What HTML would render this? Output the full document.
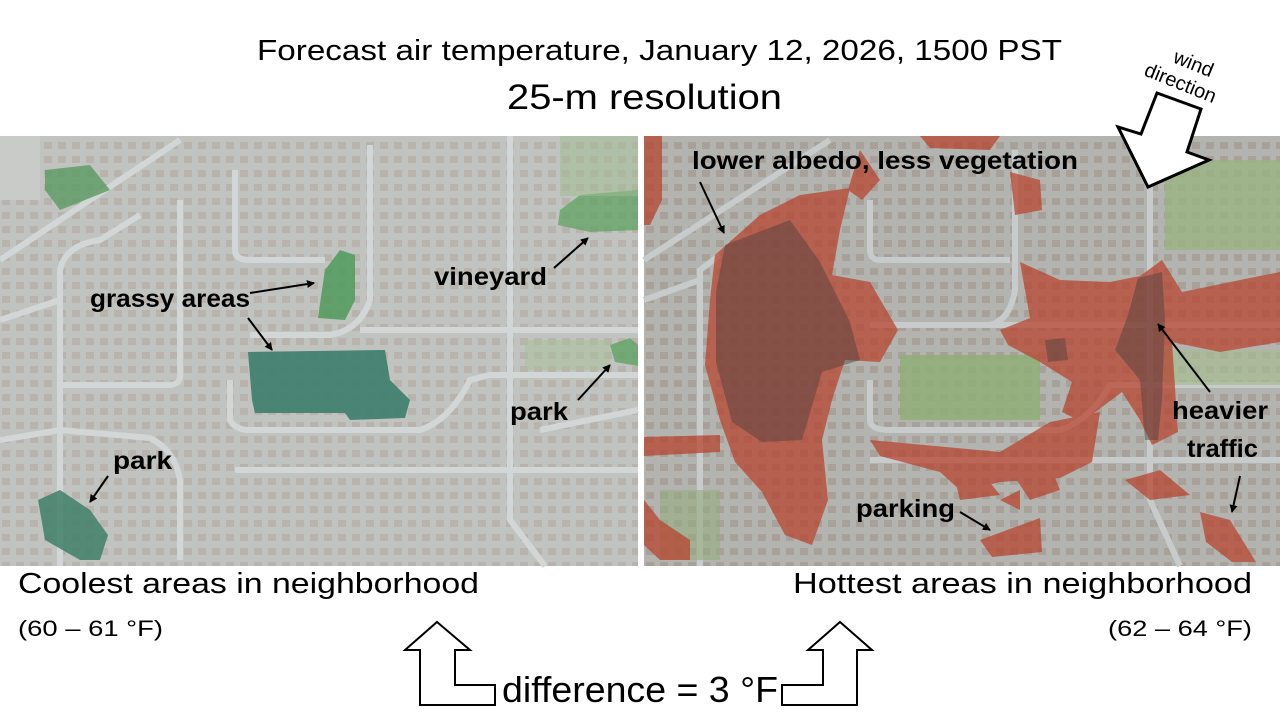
<!DOCTYPE html>
<html><head><meta charset="utf-8"><style>
html,body{margin:0;padding:0;background:#fff;width:1280px;height:720px;overflow:hidden}
svg{display:block}
text{font-family:"Liberation Sans","DejaVu Sans",sans-serif}
.lb{font-weight:bold;font-size:25px;fill:#000}
</style></head><body>
<svg width="1280" height="720" viewBox="0 0 1280 720" xmlns="http://www.w3.org/2000/svg">
<defs>
<marker id="ah" markerWidth="8" markerHeight="8" refX="7" refY="4" orient="auto" markerUnits="userSpaceOnUse"><path d="M0,0 L8,4 L0,8 z" fill="#000"/></marker>
<pattern id="houses" width="14" height="14" patternUnits="userSpaceOnUse"><rect width="14" height="14" fill="#b3b4b0"/><rect x="2" y="2" width="8" height="7" fill="#a8a19a"/></pattern>
<pattern id="houses2" width="14" height="14" patternUnits="userSpaceOnUse"><rect width="14" height="14" fill="#c1c3c0"/><rect x="2" y="2" width="8" height="7" fill="#b8b3ad"/></pattern>
</defs>
<rect width="1280" height="720" fill="#fff"/>
<text x="257" y="60" font-size="29" textLength="805" lengthAdjust="spacingAndGlyphs">Forecast air temperature, January 12, 2026, 1500 PST</text>
<text x="507" y="109" font-size="35" textLength="275" lengthAdjust="spacingAndGlyphs">25-m resolution</text>

<!-- LEFT IMAGE -->
<g>
<rect x="0" y="136" width="638" height="430" fill="url(#houses2)"/>
<g fill="none" stroke="#d3d6d6" stroke-width="6">
<path d="M60,566 V270 Q65,245 100,240 L140,215"/>
<path d="M0,320 L60,300"/><path d="M0,440 L60,430 L150,438 Q175,450 180,480 V560"/>
<path d="M180,200 V370 Q182,385 170,385 H60"/>
<path d="M235,170 V250 Q235,260 250,260 H325"/>
<path d="M370,145 V300 Q360,330 330,335 H250"/>
<path d="M230,380 V420 Q235,430 250,430 H420 Q450,420 470,380 L490,375 H638"/>
<path d="M235,470 H638"/><path d="M510,136 V520 L545,566"/>
<path d="M360,330 H638"/><path d="M540,430 L638,410"/>
<path d="M0,260 L180,140"/>
</g>
<path d="M45,170 L90,165 L110,190 L60,210 L45,190 z" fill="#5a9a62" opacity=".8"/>
<path d="M325,270 L340,250 L355,255 L355,300 L345,320 L318,318 L322,290 z" fill="#4f9a5a" opacity=".85"/>
<path d="M252,400 L248,352 L385,350 L390,380 L410,400 L405,418 L350,420 L345,413 L255,413 z" fill="#3d7d6c" opacity=".9"/>
<path d="M38,500 L60,490 L90,510 L108,535 L100,560 L80,560 L45,540 z" fill="#3f8068" opacity=".85"/>
<path d="M560,210 L580,195 L638,190 L638,230 L590,232 L558,225 z" fill="#5fa362" opacity=".75"/>
<path d="M610,345 L630,338 L638,345 L638,366 L615,362 z" fill="#5fa362" opacity=".8"/>
<rect x="560" y="136" width="78" height="60" fill="#9fbb8e" opacity=".5"/>
<rect x="525" y="340" width="85" height="30" fill="#a8c198" opacity=".5"/>
<path d="M0,136 H40 V200 H0 z" fill="#c9cbc9"/>
<text class="lb" x="90" y="307" textLength="160" lengthAdjust="spacingAndGlyphs">grassy areas</text>
<line x1="250" y1="293" x2="314" y2="283" stroke="#000" stroke-width="2" marker-end="url(#ah)"/>
<line x1="248" y1="318" x2="272" y2="350" stroke="#000" stroke-width="2" marker-end="url(#ah)"/>
<text class="lb" x="434" y="285" textLength="113" lengthAdjust="spacingAndGlyphs">vineyard</text>
<line x1="554" y1="268" x2="588" y2="238" stroke="#000" stroke-width="2" marker-end="url(#ah)"/>
<text class="lb" x="510" y="420" textLength="58" lengthAdjust="spacingAndGlyphs">park</text>
<line x1="578" y1="400" x2="610" y2="365" stroke="#000" stroke-width="2" marker-end="url(#ah)"/>
<text class="lb" x="113" y="469" textLength="59" lengthAdjust="spacingAndGlyphs">park</text>
<line x1="108" y1="476" x2="90" y2="502" stroke="#000" stroke-width="2" marker-end="url(#ah)"/>
</g>

<!-- RIGHT IMAGE -->
<g>
<rect x="644" y="136" width="636" height="430" fill="url(#houses)"/>
<g fill="none" stroke="#c7cbcb" stroke-width="6">
<path d="M700,566 V270 L720,255"/><path d="M644,300 L700,280"/>
<path d="M870,200 V250 Q870,260 880,260 H1010"/>
<path d="M1015,150 V290 Q1010,320 990,325 H870"/>
<path d="M870,380 V420 Q870,430 890,430 H1060 Q1090,420 1110,385 H1280"/>
<path d="M870,460 H1280"/><path d="M1150,136 V500 L1180,566"/>
<path d="M990,325 H1280"/><path d="M644,260 L830,140"/>
</g>
<rect x="900" y="355" width="140" height="65" fill="#8fae77" opacity=".85"/>
<rect x="1165" y="160" width="115" height="90" fill="#98b47f" opacity=".75"/>
<rect x="1165" y="350" width="115" height="35" fill="#a6bc92" opacity=".7"/>
<rect x="660" y="490" width="60" height="70" fill="#94ac7e" opacity=".6"/>
<g fill="#b8412c" opacity=".72">
<path d="M715,255 L760,215 L800,195 L850,188 L840,230 L832,275 L870,282 L898,330 L880,362 L845,360 L832,400 L822,440 L828,500 L812,545 L785,535 L762,492 L735,462 L720,420 L705,365 L710,300 z"/>
<path d="M644,437 L720,435 L720,452 L644,456 z"/>
<path d="M644,136 L662,136 L662,200 L650,225 L644,225 z"/>
<path d="M644,500 L660,520 L690,540 L690,560 L660,560 L644,545 z"/>
<path d="M1020,262 L1060,280 L1110,282 L1140,276 L1162,260 L1182,292 L1240,280 L1280,272 L1280,342 L1220,352 L1172,342 L1178,432 L1152,445 L1140,420 L1122,392 L1082,422 L1062,412 L1072,382 L1040,362 L1008,345 L1000,330 L1030,318 z"/>
<path d="M870,440 L1000,452 L1050,422 L1100,412 L1092,462 L1060,478 L1000,482 L962,492 L940,472 L880,456 z"/>
<path d="M980,540 L1040,518 L1042,552 L992,557 z"/>
<path d="M1200,512 L1230,520 L1256,562 L1232,562 L1206,542 z"/>
<path d="M1010,470 L1050,465 L1060,490 L1030,500 z"/>
<path d="M1125,480 L1160,470 L1190,495 L1150,500 z"/>
<path d="M1010,172 L1040,180 L1042,210 L1015,215 z"/>
<path d="M955,480 L980,470 L1000,495 L960,500 z"/>
<path d="M1000,500 L1020,490 L1020,510 z"/>
<path d="M920,136 L1000,136 L990,150 L930,148 z"/>
<path d="M860,150 L880,180 L862,200 L848,190 z"/>
</g>
<g fill="#4a3f3c" opacity=".45">
<path d="M725,245 L790,220 L820,262 L850,322 L860,360 L822,372 L802,440 L762,442 L732,422 L716,362 L716,292 z"/>
<path d="M1138,278 L1162,272 L1165,320 L1162,400 L1158,440 L1145,440 L1140,380 L1115,350 L1128,315 z"/>
<path d="M1045,340 L1065,338 L1068,360 L1048,362 z"/>
</g>
<text class="lb" x="692" y="169" textLength="386" lengthAdjust="spacingAndGlyphs">lower albedo, less vegetation</text>
<line x1="700" y1="182" x2="724" y2="233" stroke="#000" stroke-width="2" marker-end="url(#ah)"/>
<text class="lb" x="1172" y="419" textLength="96" lengthAdjust="spacingAndGlyphs">heavier</text>
<text class="lb" x="1187" y="457" textLength="71" lengthAdjust="spacingAndGlyphs">traffic</text>
<line x1="1210" y1="392" x2="1158" y2="324" stroke="#000" stroke-width="2" marker-end="url(#ah)"/>
<line x1="1240" y1="476" x2="1232" y2="512" stroke="#000" stroke-width="2" marker-end="url(#ah)"/>
<text class="lb" x="856" y="517" textLength="99" lengthAdjust="spacingAndGlyphs">parking</text>
<line x1="960" y1="512" x2="990" y2="530" stroke="#000" stroke-width="2" marker-end="url(#ah)"/>
</g>

<!-- wind arrow -->
<path d="M1157,93 L1201,109 L1187,152 L1209,160 L1148,187 L1118,127 L1141,134 z" fill="#fff" stroke="#000" stroke-width="3" stroke-linejoin="miter"/>
<text x="1172" y="62" font-size="20" transform="rotate(22 1172 62)">wind</text>
<text x="1143" y="75" font-size="20" transform="rotate(22 1143 75)">direction</text>

<!-- bottom -->
<text x="18" y="593" font-size="29" textLength="461" lengthAdjust="spacingAndGlyphs">Coolest areas in neighborhood</text>
<text x="18" y="636" font-size="22" textLength="145" lengthAdjust="spacingAndGlyphs">(60 – 61 °F)</text>
<text x="793" y="593" font-size="29" textLength="459" lengthAdjust="spacingAndGlyphs">Hottest areas in neighborhood</text>
<text x="1108" y="636" font-size="22" textLength="144" lengthAdjust="spacingAndGlyphs">(62 – 64 °F)</text>
<text x="502" y="702" font-size="36" textLength="276" lengthAdjust="spacingAndGlyphs">difference = 3 °F</text>
<path d="M437,622 L470,650 L455,650 L455,685 L495,685 L495,705 L420,705 L420,650 L405,650 z" fill="#fff" stroke="#000" stroke-width="2"/>
<path d="M840,622 L872,650 L857,650 L857,705 L782,705 L782,685 L823,685 L823,650 L808,650 z" fill="#fff" stroke="#000" stroke-width="2"/>
</svg>
</body></html>
